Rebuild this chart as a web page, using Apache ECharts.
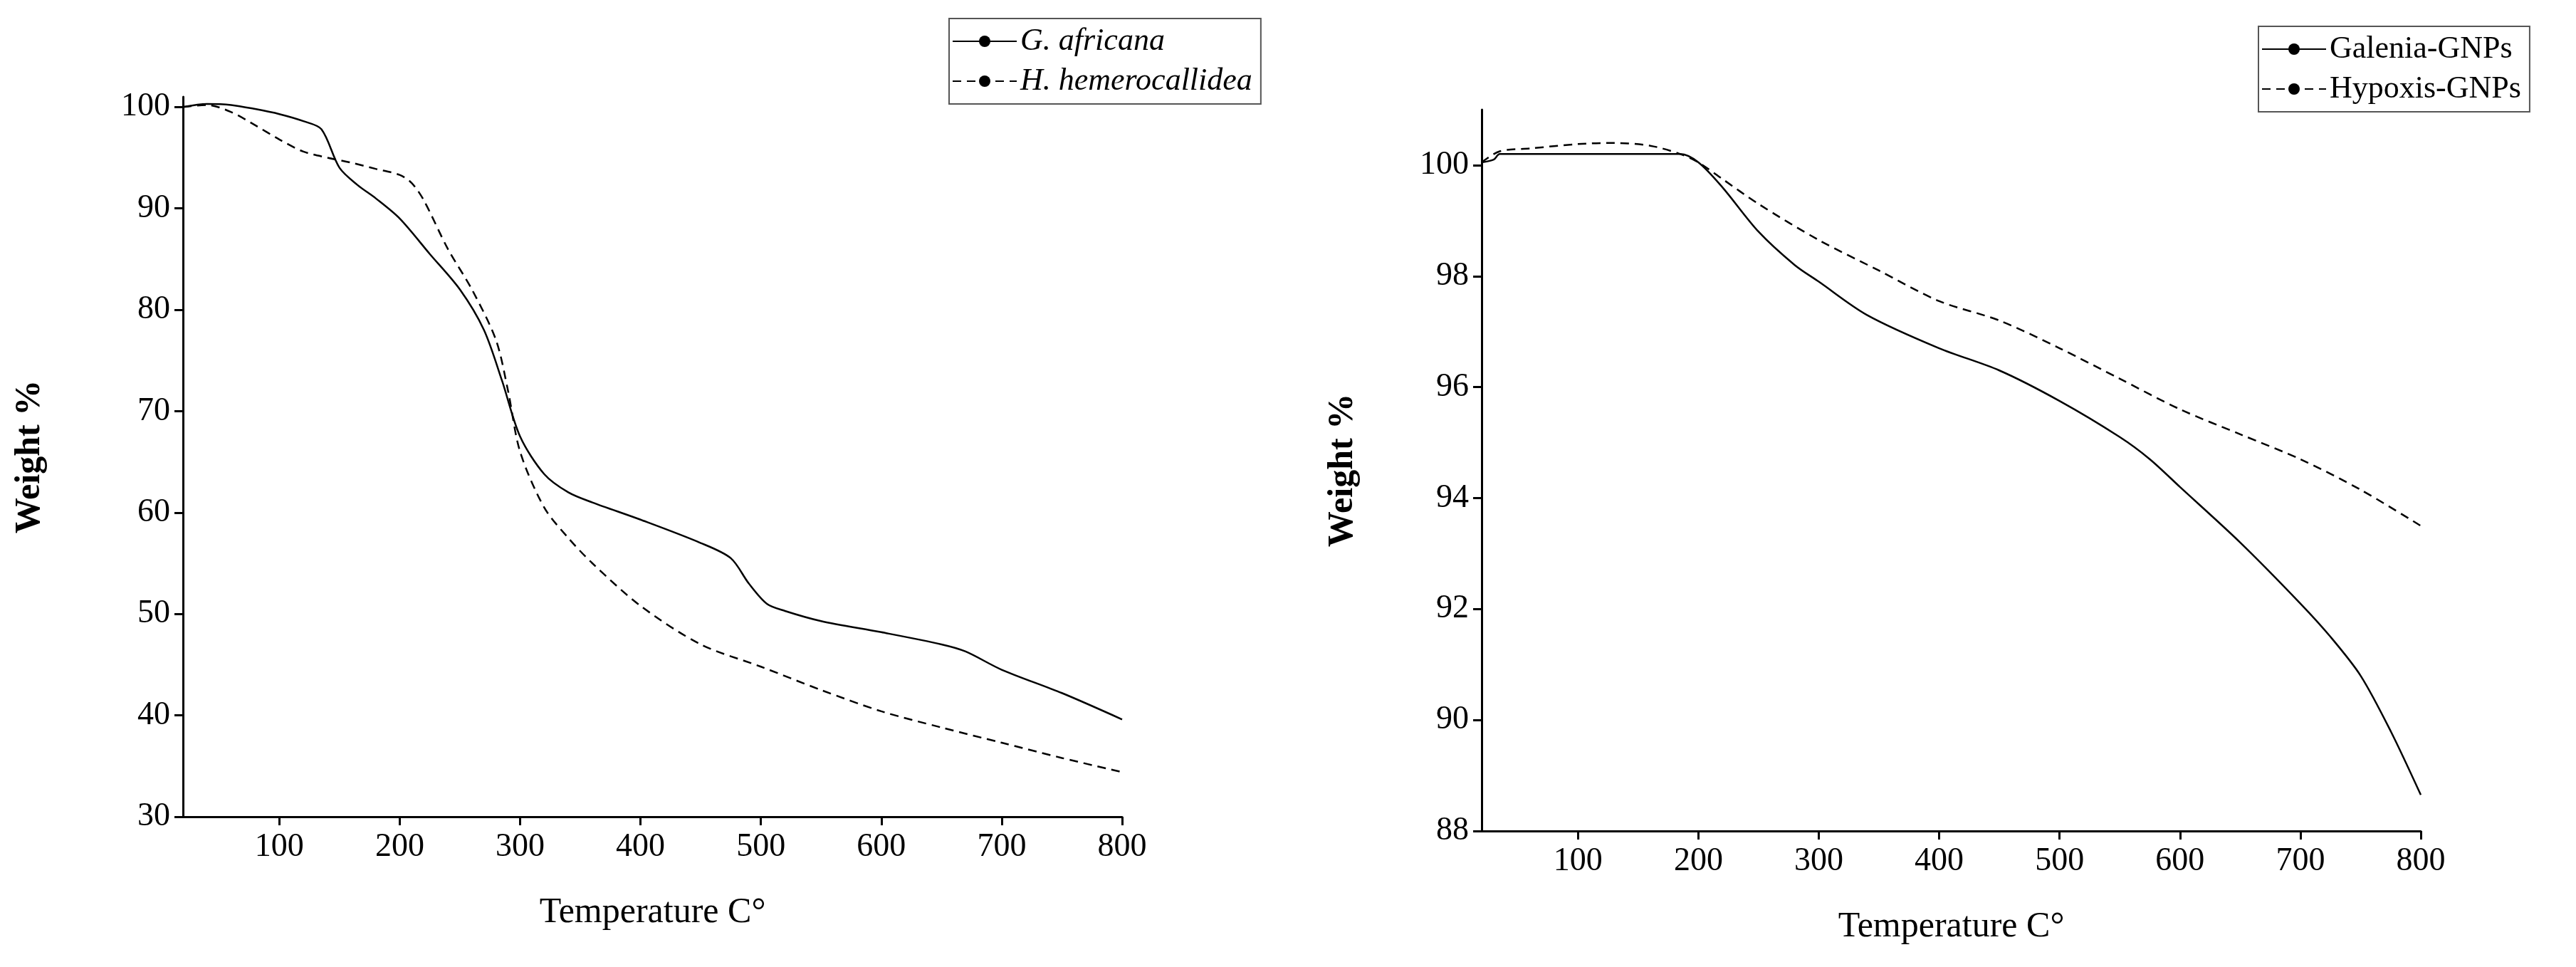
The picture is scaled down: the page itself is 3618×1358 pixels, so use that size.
<!DOCTYPE html>
<html>
<head>
<meta charset="utf-8">
<script src="https://cdn.jsdelivr.net/npm/echarts@6/dist/echarts.min.js"></script>
<style>html,body{margin:0;padding:0;background:#fff}#main{width:3618px;height:1358px}</style>
</head>
<body>
<div id="main"></div>
<script>
// left panel: raw extracts
var leftSolid = [[20,100],[40,100.3],[60,100.2],[80,99.8],[100,99.3],[120,98.6],[135,97.8],[150,94],[165,92.3],[180,91],[200,89],[225,85.5],[250,82],[270,78],[285,73],[300,67.5],[320,63.8],[340,62],[360,61],[400,59.3],[450,57],[475,55.5],[490,53],[505,51],[520,50.3],[550,49.3],[600,48.2],[650,47],[670,46.3],[700,44.5],[750,42.2],[800,39.6]];
var leftDash = [[20,100],[40,100.2],[60,99.5],[80,98.2],[100,96.8],[120,95.6],[140,95],[160,94.5],[180,93.9],[200,93.3],[210,92.5],[220,90.8],[240,86],[260,82],[280,77],[290,72],[300,66],[320,60.5],[340,57.5],[360,55],[400,50.8],[450,47],[500,44.8],[550,42.5],[600,40.4],[650,38.8],[700,37.3],[750,35.8],[800,34.4]];
// right panel: nanoparticles
var rightSolid = [[20,100.05],[30,100.1],[35,100.2],[100,100.2],[185,100.2],[200,100.05],[220,99.6],[250,98.8],[280,98.2],[300,97.9],[340,97.3],[400,96.7],[450,96.3],[500,95.75],[550,95.1],[575,94.7],[600,94.2],[650,93.2],[700,92.1],[725,91.5],[750,90.8],[775,89.8],[800,88.65]];
var rightDash = [[20,100.05],[35,100.25],[60,100.3],[100,100.38],[130,100.4],[160,100.35],[185,100.2],[200,100.05],[220,99.75],[250,99.3],[300,98.65],[350,98.1],[400,97.55],[450,97.2],[500,96.7],[550,96.15],[600,95.6],[650,95.15],[700,94.7],[750,94.15],[800,93.5]];
var xTicks = [100,200,300,400,500,600,700,800];
var leftNames = ['G. africana','H. hemerocallidea'];
var rightNames = ['Galenia-GNPs','Hypoxis-GNPs'];

var font = 'Liberation Serif';
var axisLine = {show:true,lineStyle:{color:'#000',width:3}};
function xAxis(idx){
  return {type:'value',gridIndex:idx,min:20,max:800,name:'Temperature C\u00b0',nameLocation:'middle',nameGap:110,
    nameTextStyle:{fontFamily:font,fontSize:50,color:'#000'},
    axisLine:axisLine,splitLine:{show:false},
    axisTick:{show:true,customValues:xTicks,length:12,lineStyle:{color:'#000',width:3}},
    axisLabel:{customValues:xTicks,fontFamily:font,fontSize:46,color:'#000',margin:20}};
}
function yAxis(idx,min,max,interval){
  return {type:'value',gridIndex:idx,min:min,max:max,interval:interval,name:'Weight %',nameLocation:'middle',nameGap:idx?170:190,
    nameTextStyle:{fontFamily:font,fontSize:50,color:'#000',fontWeight:'bold'},
    axisLine:axisLine,splitLine:{show:false},
    axisTick:{show:true,length:12,lineStyle:{color:'#000',width:3}},
    axisLabel:{fontFamily:font,fontSize:46,color:'#000',margin:18,showMaxLabel:false}};
}
function line(name,data,idx,dash){
  return {type:'line',name:name,data:data,xAxisIndex:idx,yAxisIndex:idx,smooth:0.3,symbol:'none',
    lineStyle:{color:'#000',width:2.5,type:dash?[12,8]:'solid'},itemStyle:{color:'#000'}};
}
function legend(names,left,top,width,italic){
  return {data:names,orient:'vertical',left:left,top:top,width:width,itemWidth:90,itemHeight:20,itemGap:12,
    borderColor:'#555',borderWidth:2,borderRadius:0,padding:[10,12,10,4],
    textStyle:{fontFamily:font,fontSize:44,color:'#000',fontStyle:italic?'italic':'normal'}};
}
var chart = echarts.init(document.getElementById('main'));
chart.setOption({
  backgroundColor:'#fff',animation:false,
  legend:[legend(leftNames,1333,26,500,true),legend(rightNames,3172,37,425,false)],
  grid:[{left:257,top:136,width:1319,height:1011},{left:2081,top:154,width:1319,height:1013}],
  xAxis:[xAxis(0),xAxis(1)],
  yAxis:[yAxis(0,30,101,10),yAxis(1,88,101,2)],
  series:[line(leftNames[0],leftSolid,0,false),line(leftNames[1],leftDash,0,true),
          line(rightNames[0],rightSolid,1,false),line(rightNames[1],rightDash,1,true)]
});
</script>
</body>
</html>
